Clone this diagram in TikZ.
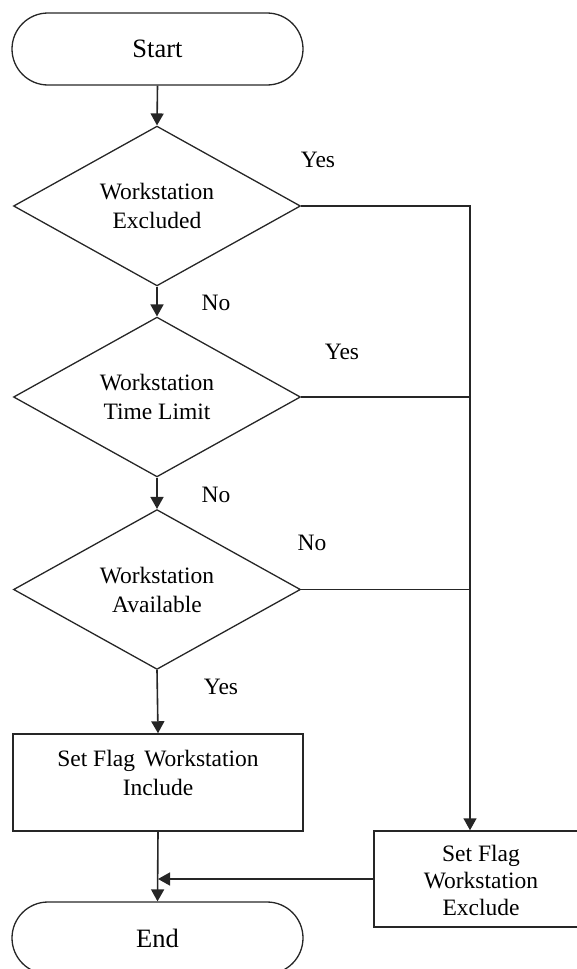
\documentclass[tikz,border=0pt]{standalone}
\usepackage{fontspec}
\setmainfont{Liberation Serif}
\usetikzlibrary{shapes.geometric,arrows.meta}

\tikzset{
  flowline/.style={line width=1.6pt, draw=black!85},
  flowarrow/.style={flowline, -{Triangle[length=12pt,width=13pt]}},
  terminal/.style={draw=black!85, line width=1.3pt, rectangle, rounded corners=36pt,
    minimum width=291pt, minimum height=72pt, inner sep=0pt,
    font=\fontsize{26.5}{30}\selectfont},
  decision/.style={draw=black!85, line width=1.3pt, diamond, minimum width=287pt,
    minimum height=143pt, inner sep=0pt, align=center,
    font=\fontsize{23.5}{29}\selectfont},
  procbox/.style={draw=black!85, line width=1.5pt, rectangle, inner sep=0pt},
  boxtext/.style={align=center, inner sep=0pt, font=\fontsize{23.5}{29}\selectfont},
  branch/.style={inner sep=0pt, font=\fontsize{23.5}{28}\selectfont}
}

\begin{document}
\begin{tikzpicture}[x=1pt, y=-1pt]
  \useasboundingbox (0,0) rectangle (577,969);
  \clip (0,0) rectangle (577,969);

  % main column
  \node[terminal] (start) at (157.5,49) {Start};
  \node[decision] (d1) at (157,206) {Workstation\\Excluded};
  \node[decision] (d2) at (157,397) {Workstation\\Time Limit};
  \node[decision] (d3) at (157,589.5) {Workstation\\Available};
  \node[procbox, minimum width=290pt, minimum height=97pt] (incl) at (158,782.5) {};
  \node[boxtext] (incltxt) at (158,773) {Set Flag\hspace{0.4em}Workstation\\Include};
  \node[terminal] (end) at (157.5,938) {End};

  % exclusion branch
  \node[procbox, minimum width=214pt, minimum height=96pt] (excl) at (481,879) {};
  \node[boxtext, font=\fontsize{23.5}{27}\selectfont] (excltxt) at (481,880) {Set Flag\\Workstation\\Exclude};
  \coordinate (bus) at (470,206);

  % vertical flow
  \draw[flowarrow] (start.south) -- (d1.north);
  \draw[flowarrow] (d1.south) -- (d2.north);
  \draw[flowarrow] (d2.south) -- (d3.north);
  \draw[flowarrow] (d3.south) -- (incl.north);
  \draw[flowarrow] (incl.south) -- (end.north);

  % side branches to the exclusion box
  \draw[flowarrow] (d1.east) -- (bus) -- (bus |- excl.north);
  \draw[flowline] (d2.east) -- (d2.east -| bus);
  \draw[flowline] (d3.east) -- (d3.east -| bus);
  \draw[flowarrow] (excl.west) -- (excl.west -| incl.south);

  % branch labels
  \node[branch] (l1) at (318,160) {Yes};
  \node[branch] (l2) at (216,303) {No};
  \node[branch] (l3) at (342,352) {Yes};
  \node[branch] (l4) at (216,495) {No};
  \node[branch] (l5) at (312,543) {No};
  \node[branch] (l6) at (221,687) {Yes};
\end{tikzpicture}
\end{document}
